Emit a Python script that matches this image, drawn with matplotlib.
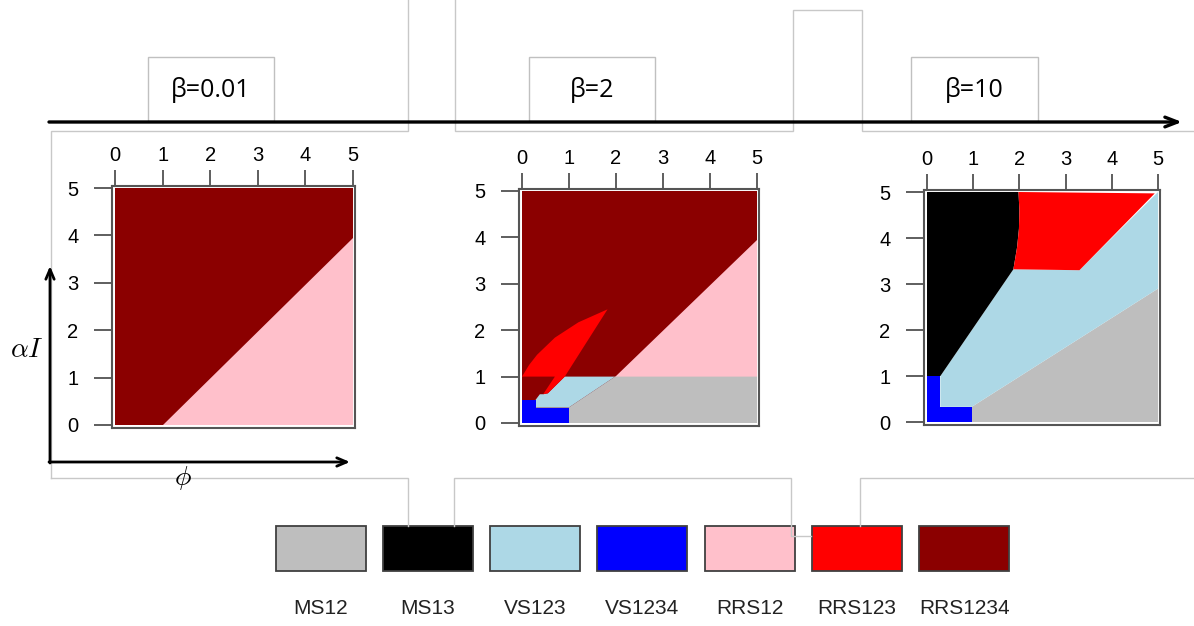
import matplotlib
matplotlib.use("Agg")
import matplotlib.pyplot as plt
from matplotlib.patches import Rectangle

W, H = 1194, 626

regimes = ["MS12", "MS13", "VS123", "VS1234", "RRS12", "RRS123", "RRS1234"]
regime_colors = ["#bebebe", "#000000", "#add8e6", "#0000ff",
                 "#ffc0cb", "#ff0000", "#8b0000"]
betas = ["β=0.01", "β=2", "β=10"]
ticks = [0, 1, 2, 3, 4, 5]

# regime regions as (phi, alpha*I) outlines, painted in order
panel_low = [
    ("RRS1234", [(0, 0), (5, 0), (5, 5), (0, 5)]),
    ("RRS12", [(1.0, 0), (5, 0), (5, 3.95)]),
]
panel_mid = [
    ("RRS1234", [(0, 0), (5, 0), (5, 5), (0, 5)]),
    ("RRS12", [(1.98, 1.0), (5, 1.0), (5, 3.95)]),
    ("MS12", [(0.99, 0), (5, 0), (5, 1.0), (1.98, 1.0), (0.99, 0.33)]),
    ("VS123", [(0.29, 0.33), (0.99, 0.33), (1.98, 1.0), (0.91, 1.0),
               (0.55, 0.64), (0.45, 0.62), (0.38, 0.62), (0.29, 0.5)]),
    ("VS1234", [(0, 0), (0.99, 0), (0.99, 0.33), (0.29, 0.33),
                (0.29, 0.5), (0, 0.5)]),
    ("RRS123", [(0, 1.0), (0.15, 1.25), (0.32, 1.47), (0.7, 1.84),
                (1.2, 2.17), (1.82, 2.45), (0.91, 1.0), (0.55, 0.64),
                (0.45, 0.62), (0.70, 1.0)]),
]
panel_high = [
    ("MS12", [(0.97, 0), (5, 0), (5, 2.9), (0.97, 0.33)]),
    ("VS1234", [(0, 0), (0.97, 0), (0.97, 0.33), (0.29, 0.33),
                (0.29, 1.0), (0, 1.0)]),
    ("VS123", [(0.29, 0.33), (0.97, 0.33), (5, 2.9), (5, 5), (3.3, 3.3),
               (1.87, 3.32), (0.29, 1.0)]),
    ("MS13", [(0, 1.0), (0.29, 1.0), (1.87, 3.32), (1.95, 3.8),
              (1.99, 4.2), (2.0, 4.6), (1.98, 5), (0, 5)]),
    ("RRS123", [(1.87, 3.32), (3.3, 3.3), (4.93, 4.97), (1.98, 5),
                (2.0, 4.6), (1.99, 4.2), (1.95, 3.8)]),
]
panels = [panel_low, panel_mid, panel_high]

color_of = dict(zip(regimes, regime_colors))

plt.rcParams["font.family"] = ["Liberation Sans", "DejaVu Sans"]
plt.rcParams["mathtext.fontset"] = "cm"

fig = plt.figure(figsize=(W / 100, H / 100), dpi=100)

# pixel overlay for the frame lines, arrows, boxes and legend
ov = fig.add_axes([0, 0, 1, 1])
ov.set_xlim(0, W)
ov.set_ylim(H, 0)
ov.set_facecolor("none")
ov.axis("off")

frame_lines = [
    [(51, 478), (51, 131), (408, 131), (408, 0)],
    [(51, 478), (408, 478), (408, 526)],
    [(455, 0), (455, 131), (793, 131), (793, 10), (862, 10), (862, 131),
     (1194, 131)],
    [(454, 526), (454, 478), (791, 478), (791, 536), (811, 536)],
    [(860, 526), (860, 478), (1194, 478)],
]
for pl in frame_lines:
    xs, ys = zip(*pl)
    ov.plot(xs, ys, color="#c8c8c8", lw=1.0, solid_joinstyle="miter")

# beta boxes on top of the main arrow
beta_boxes = [(148, 274), (529, 655), (911, 1038)]
for (bx0, bx1), lab in zip(beta_boxes, betas):
    ov.add_patch(Rectangle((bx0, 57), bx1 - bx0, 64, facecolor="white",
                           edgecolor="#c0c0c0", lw=1.0))
    ov.text((bx0 + bx1) / 2, 90, lab, ha="center", va="center",
            fontsize=18, family=["Open Sans", "DejaVu Sans"])

ov.annotate("", xy=(1182, 122), xytext=(49, 122),
            arrowprops=dict(arrowstyle="->,head_length=0.9,head_width=0.35",
                            lw=2.4, color="black", shrinkA=0, shrinkB=0))

# axis arrows next to the first panel
ov.annotate("", xy=(50, 266), xytext=(50, 463),
            arrowprops=dict(arrowstyle="->,head_length=0.7,head_width=0.3",
                            lw=2.0, color="black", shrinkA=0, shrinkB=0))
ov.annotate("", xy=(350, 462), xytext=(49, 462),
            arrowprops=dict(arrowstyle="->,head_length=0.7,head_width=0.3",
                            lw=2.0, color="black", shrinkA=0, shrinkB=0))
ov.text(27, 350, r"$\alpha I$", ha="center", va="center", fontsize=20)
ov.text(183, 478, r"$\phi$", ha="center", va="center", fontsize=20)

# legend swatches
for i, (name, col) in enumerate(zip(regimes, regime_colors)):
    lx = 275.5 + i * 107.3
    ov.add_patch(Rectangle((lx, 526), 90, 45, facecolor=col,
                           edgecolor="#404040", lw=1.3))
    ov.text(lx + 45, 609, name, ha="center", va="center", fontsize=15,
            color="#222222")

# phase-diagram panels
LIM = (-0.07, 5.05)
panel_px = [(115, 353, 425, 188), (522, 757, 423, 191), (927, 1158, 422, 192)]


def place(x0, x5, y0, y5):
    sx = (x5 - x0) / 5
    sy = (y0 - y5) / 5
    left = x0 + LIM[0] * sx
    right = x0 + LIM[1] * sx
    bottom = y0 - LIM[0] * sy
    top = y0 - LIM[1] * sy
    return [left / W, 1 - bottom / H, (right - left) / W, (bottom - top) / H]


for px, regions in zip(panel_px, panels):
    ax = fig.add_axes(place(*px))
    for name, pts in regions:
        xs, ys = zip(*pts)
        ax.fill(xs, ys, color=color_of[name], lw=0)
    ax.set_xlim(*LIM)
    ax.set_ylim(*LIM)
    ax.set_xticks(ticks)
    ax.set_yticks(ticks)
    ax.xaxis.set_ticks_position("top")
    ax.tick_params(axis="x", direction="out", length=11.5, width=1.1,
                   color="#333333", labelsize=14.5, pad=3.5)
    ax.tick_params(axis="y", direction="out", length=13, width=1.1,
                   color="#333333", labelsize=14.5, pad=11)
    for sp in ax.spines.values():
        sp.set_color("#555555")
        sp.set_linewidth(1.5)

fig.savefig("out.png", dpi=100)
